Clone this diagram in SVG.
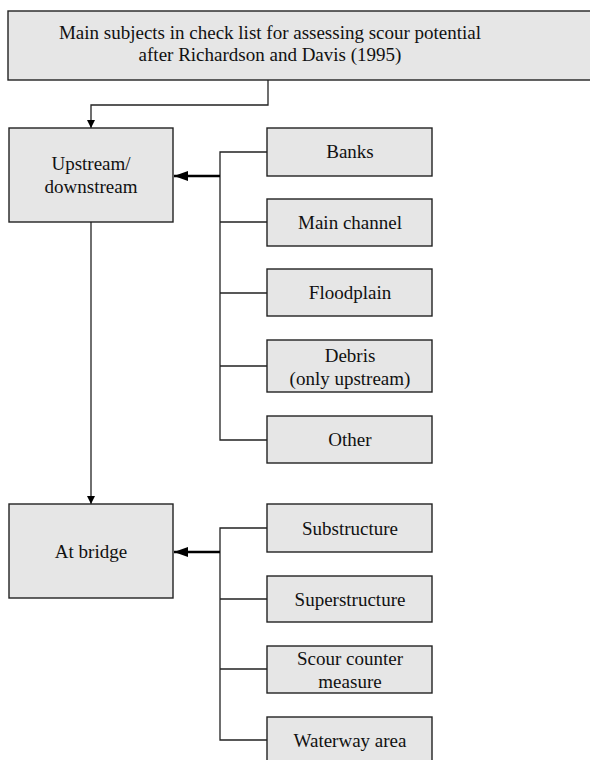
<svg xmlns="http://www.w3.org/2000/svg" width="590" height="760" viewBox="0 0 590 760">
<style>
.box{fill:#e6e6e6;stroke:#222;stroke-width:1.4}
.t{font-family:"Liberation Serif",serif;font-size:19px;fill:#111;text-anchor:middle}
.ln{fill:none;stroke:#222;stroke-width:1.3}
.th{fill:none;stroke:#000;stroke-width:2.6}
</style>
<defs>
<marker id="ah" viewBox="0 0 10 10" refX="10" refY="5" markerWidth="10" markerHeight="8" markerUnits="userSpaceOnUse" orient="auto"><path d="M0,0L10,5L0,10Z" fill="#000"/></marker>
<marker id="ahb" viewBox="0 0 14 10" refX="14" refY="5" markerWidth="14" markerHeight="10" markerUnits="userSpaceOnUse" orient="auto"><path d="M0,0L14,5L0,10Z" fill="#000"/></marker>
</defs>
<g id="connectors">
<path class="ln" d="M268,80V105H91V128" marker-end="url(#ah)"/>
<path class="ln" d="M91,222V504" marker-end="url(#ah)"/>
<path class="ln" d="M267,152H220V440H267M220,222H267M220,293H267M220,366H267"/>
<path class="th" d="M220,176H174" marker-end="url(#ahb)"/>
<path class="ln" d="M267,528H220V740H267M220,599H267M220,669H267"/>
<path class="th" d="M220,552H174" marker-end="url(#ahb)"/>
</g>
<g id="top"><rect class="box" x="8" y="11" width="590" height="69"/><text class="t" x="270" y="39">Main subjects in check list for assessing scour potential</text><text class="t" x="270" y="61">after Richardson and Davis (1995)</text></g>
<g id="upstream"><rect class="box" x="9" y="128" width="164" height="94"/><text class="t" x="91" y="170">Upstream/</text><text class="t" x="91" y="193">downstream</text></g>
<g id="atbridge"><rect class="box" x="9" y="504" width="164" height="94"/><text class="t" x="91" y="558">At bridge</text></g>
<g id="banks"><rect class="box" x="267" y="128" width="165" height="48"/><text class="t" x="350" y="158">Banks</text></g>
<g id="mainchannel"><rect class="box" x="267" y="199" width="165" height="47"/><text class="t" x="350" y="229">Main channel</text></g>
<g id="floodplain"><rect class="box" x="267" y="269" width="165" height="47"/><text class="t" x="350" y="299">Floodplain</text></g>
<g id="debris"><rect class="box" x="267" y="340" width="165" height="52"/><text class="t" x="350" y="362">Debris</text><text class="t" x="350" y="385">(only upstream)</text></g>
<g id="other"><rect class="box" x="267" y="416" width="165" height="47"/><text class="t" x="350" y="446">Other</text></g>
<g id="substructure"><rect class="box" x="267" y="504" width="165" height="48"/><text class="t" x="350" y="535">Substructure</text></g>
<g id="superstructure"><rect class="box" x="267" y="576" width="165" height="46"/><text class="t" x="350" y="606">Superstructure</text></g>
<g id="scour"><rect class="box" x="267" y="646" width="165" height="47"/><text class="t" x="350" y="665">Scour counter</text><text class="t" x="350" y="688">measure</text></g>
<g id="waterway"><rect class="box" x="267" y="717" width="165" height="50"/><text class="t" x="350" y="747">Waterway area</text></g>
</svg>
